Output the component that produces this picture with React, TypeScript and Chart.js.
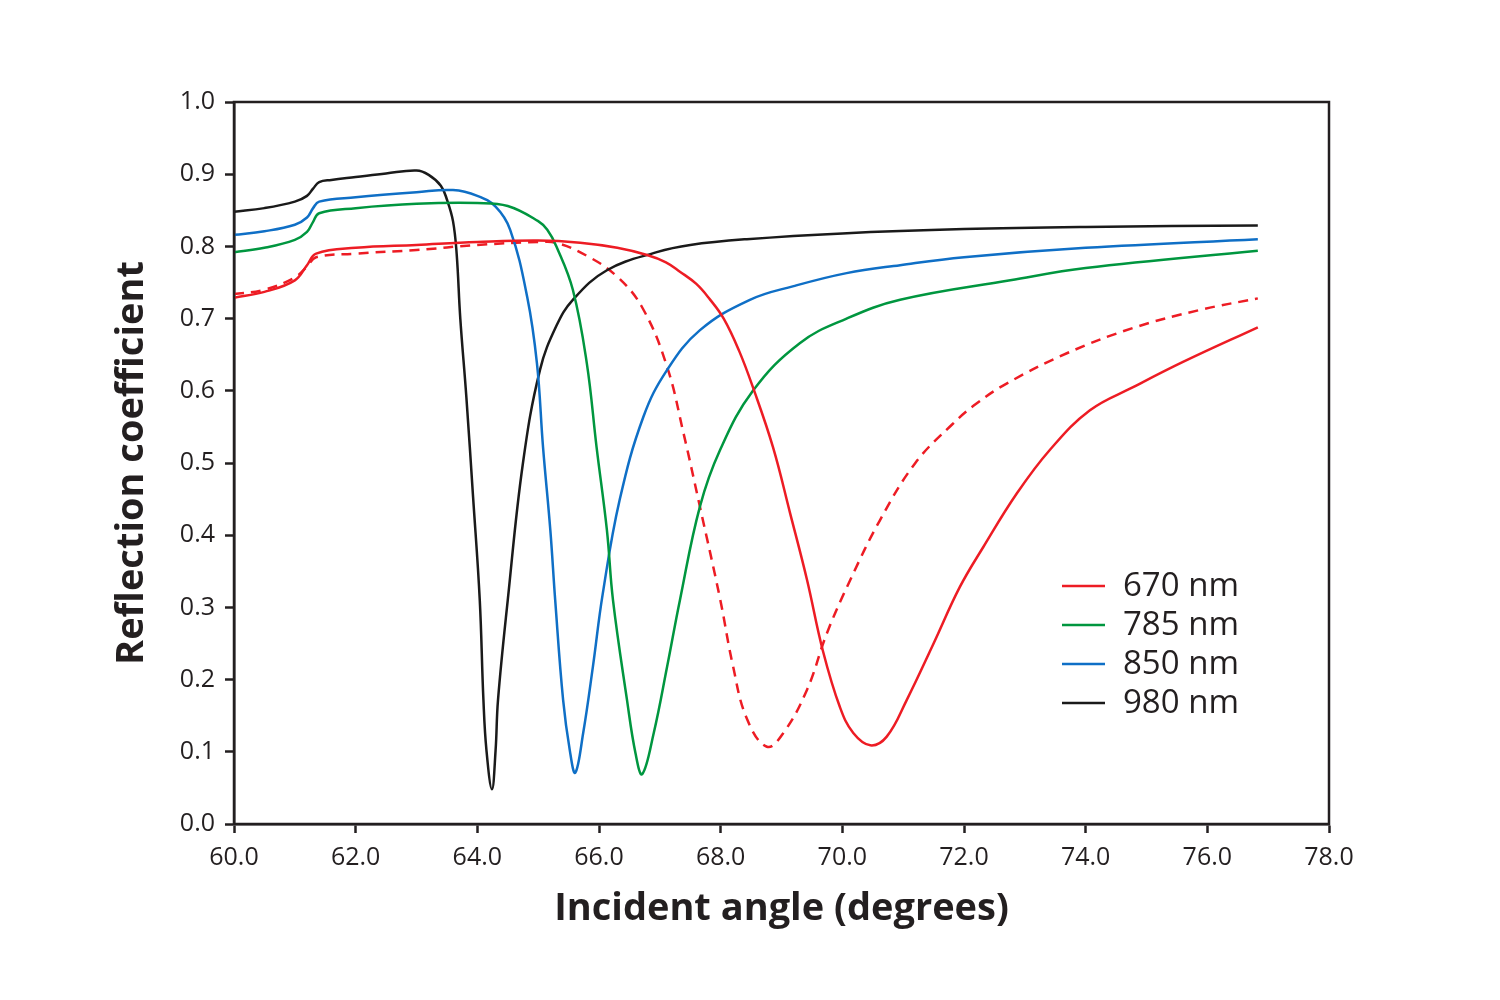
import React, { useEffect, useRef } from 'react';
import { Chart, registerables } from 'chart.js';

Chart.register(...registerables);

// Incident angle (degrees) / reflection coefficient
const angle670 = [60.0, 60.5, 61.0, 61.2, 61.35, 62.0, 63.0, 64.0, 65.0, 65.69, 66.3, 66.79, 67.1, 67.33, 67.6, 67.82, 68.05, 68.3, 68.53, 68.86, 69.14, 69.42, 69.68, 69.96, 70.18, 70.46, 70.73, 71.06, 71.5, 71.93, 72.32, 72.87, 73.41, 74.07, 74.78, 75.6, 76.83];
const refl670 = [0.729, 0.737, 0.753, 0.774, 0.790, 0.798, 0.802, 0.806, 0.808, 0.805, 0.798, 0.788, 0.778, 0.765, 0.748, 0.727, 0.700, 0.656, 0.605, 0.522, 0.431, 0.338, 0.240, 0.162, 0.126, 0.109, 0.121, 0.172, 0.250, 0.328, 0.384, 0.458, 0.518, 0.573, 0.605, 0.640, 0.688];

const angle670b = [60.0, 60.5, 61.0, 61.2, 61.35, 62.0, 63.0, 64.0, 65.0, 65.3, 65.8, 66.3, 66.72, 67.12, 67.39, 67.66, 67.99, 68.2, 68.43, 68.76, 69.03, 69.42, 69.75, 70.13, 70.62, 71.2, 71.8, 72.2, 72.7, 73.69, 74.78, 75.88, 76.83];
const refl670b = [0.734, 0.740, 0.757, 0.772, 0.785, 0.790, 0.795, 0.802, 0.806, 0.805, 0.787, 0.758, 0.714, 0.633, 0.541, 0.439, 0.312, 0.220, 0.146, 0.107, 0.126, 0.186, 0.265, 0.338, 0.421, 0.500, 0.553, 0.582, 0.610, 0.652, 0.687, 0.712, 0.728];

const angle785 = [60.0, 60.5, 61.0, 61.2, 61.3, 61.4, 62.0, 63.0, 64.0, 64.5, 65.0, 65.15, 65.3, 65.57, 65.8, 65.96, 66.13, 66.23, 66.46, 66.6, 66.71, 66.9, 67.12, 67.33, 67.66, 67.99, 68.53, 69.3, 70.07, 70.95, 72.76, 74.0, 76.83];
const refl785 = [0.792, 0.798, 0.809, 0.820, 0.834, 0.846, 0.853, 0.859, 0.860, 0.856, 0.835, 0.823, 0.800, 0.740, 0.638, 0.522, 0.407, 0.310, 0.172, 0.098, 0.069, 0.126, 0.218, 0.310, 0.440, 0.518, 0.600, 0.666, 0.700, 0.726, 0.753, 0.770, 0.794];

const angle850 = [60.0, 60.5, 61.0, 61.2, 61.3, 61.4, 62.0, 63.0, 63.6, 64.0, 64.3, 64.54, 64.82, 64.98, 65.08, 65.2, 65.28, 65.41, 65.52, 65.61, 65.74, 65.9, 66.06, 66.34, 66.73, 67.12, 67.66, 68.48, 69.2, 70.07, 70.95, 72.0, 74.0, 76.83];
const refl850 = [0.816, 0.821, 0.830, 0.840, 0.853, 0.862, 0.868, 0.875, 0.878, 0.870, 0.855, 0.823, 0.730, 0.638, 0.522, 0.407, 0.310, 0.172, 0.102, 0.071, 0.126, 0.218, 0.318, 0.449, 0.564, 0.629, 0.684, 0.726, 0.745, 0.763, 0.774, 0.785, 0.798, 0.810];

const angle980 = [60.0, 60.5, 61.0, 61.2, 61.3, 61.4, 61.6, 62.0, 62.5, 63.0, 63.2, 63.4, 63.5, 63.6, 63.66, 63.72, 63.82, 63.93, 64.04, 64.1, 64.15, 64.24, 64.3, 64.34, 64.5, 64.75, 65.03, 65.3, 65.57, 66.13, 66.95, 67.5, 68.43, 70.0, 72.0, 74.0, 76.83];
const refl980 = [0.848, 0.853, 0.862, 0.870, 0.880, 0.889, 0.892, 0.896, 0.901, 0.905, 0.899, 0.884, 0.865, 0.835, 0.790, 0.700, 0.591, 0.453, 0.310, 0.172, 0.102, 0.048, 0.102, 0.172, 0.310, 0.500, 0.629, 0.690, 0.726, 0.767, 0.792, 0.802, 0.810, 0.818, 0.824, 0.827, 0.829];

const seriesLabels = ['670 nm', '785 nm', '850 nm', '980 nm'];

const toPoints = (xs: number[], ys: number[]) => xs.map((x, i) => ({ x, y: ys[i] }));

const FONT = '"Open Sans", "Noto Sans", sans-serif';
const INK = '#231f20';

// box round the plot area (top and right edges too)
const framePlugin = {
  id: 'frame',
  afterDatasetsDraw(chart: any) {
    const { ctx, chartArea: { left, top, right, bottom } } = chart;
    ctx.save();
    ctx.strokeStyle = INK;
    ctx.lineWidth = 2.5;
    ctx.strokeRect(left, top, right - left, bottom - top);
    ctx.restore();
  }
};

// legend sitting inside the plot, lower right
const insideLegend = {
  id: 'insideLegend',
  afterDraw(chart: any) {
    const { ctx, chartArea } = chart;
    const x0 = chartArea.left + 828;
    let y = chartArea.bottom - 238;
    ctx.save();
    ctx.font = `33px ${FONT}`;
    ctx.textBaseline = 'middle';
    chart.data.datasets.forEach((ds: any) => {
      if (!seriesLabels.includes(ds.label)) return;
      ctx.strokeStyle = ds.borderColor;
      ctx.lineWidth = 2.5;
      ctx.setLineDash([]);
      ctx.beginPath();
      ctx.moveTo(x0, y);
      ctx.lineTo(x0 + 43, y);
      ctx.stroke();
      ctx.fillStyle = INK;
      ctx.fillText(ds.label, x0 + 61, y + 1);
      y += 39;
    });
    ctx.restore();
  }
};

export default function App() {
  const canvasRef = useRef<HTMLCanvasElement>(null);

  useEffect(() => {
    document.body.style.margin = '0';
    if (!canvasRef.current) return;

    const line = (label: string, xs: number[], ys: number[], color: string, dash: number[] = []) => ({
      label,
      data: toPoints(xs, ys),
      borderColor: color,
      backgroundColor: color,
      borderWidth: 2.5,
      borderDash: dash,
      pointRadius: 0,
      fill: false,
      tension: 0.4
    });

    const chart = new Chart(canvasRef.current, {
      type: 'line',
      data: {
        datasets: [
          line(seriesLabels[0], angle670, refl670, '#ed1c24'),
          line(seriesLabels[1], angle785, refl785, '#00963f'),
          line(seriesLabels[2], angle850, refl850, '#0f6fc6'),
          line(seriesLabels[3], angle980, refl980, '#1a1a1a'),
          line('670 nm (dashed)', angle670b, refl670b, '#ed1c24', [10, 7])
        ]
      },
      options: {
        responsive: false,
        animation: false,
        layout: { padding: { top: 102, right: 171, left: 0, bottom: 0 } },
        scales: {
          x: {
            type: 'linear',
            min: 60,
            max: 78,
            afterFit: (scale: any) => { scale.height = 176; },
            border: { display: true, color: INK, width: 2.5 },
            grid: { drawOnChartArea: false, drawTicks: true, tickLength: 9, tickWidth: 2.5, tickColor: INK },
            ticks: {
              stepSize: 2,
              padding: 10,
              color: INK,
              font: { family: FONT, size: 25 },
              callback: (v: any) => Number(v).toFixed(1)
            },
            title: {
              display: true,
              text: 'Incident angle (degrees)',
              color: INK,
              padding: { top: 0, bottom: 68 },
              font: { family: FONT, size: 38, weight: 'bold' }
            }
          },
          y: {
            min: 0,
            max: 1,
            afterFit: (scale: any) => { scale.width = 234; },
            border: { display: true, color: INK, width: 2.5 },
            grid: { drawOnChartArea: false, drawTicks: true, tickLength: 9, tickWidth: 2.5, tickColor: INK },
            ticks: {
              stepSize: 0.1,
              padding: 10,
              color: INK,
              font: { family: FONT, size: 25 },
              callback: (v: any) => Number(v).toFixed(1)
            },
            title: {
              display: true,
              text: 'Reflection coefficient',
              color: INK,
              padding: { top: 109, bottom: 0 },
              font: { family: FONT, size: 38, weight: 'bold' }
            }
          }
        },
        plugins: {
          legend: { display: false },
          tooltip: { enabled: false }
        }
      },
      plugins: [framePlugin, insideLegend]
    });

    return () => chart.destroy();
  }, []);

  return (
    <div style={{ width: 1500, height: 1000, background: '#fff' }}>
      <canvas ref={canvasRef} width={1500} height={1000}></canvas>
    </div>
  );
}
